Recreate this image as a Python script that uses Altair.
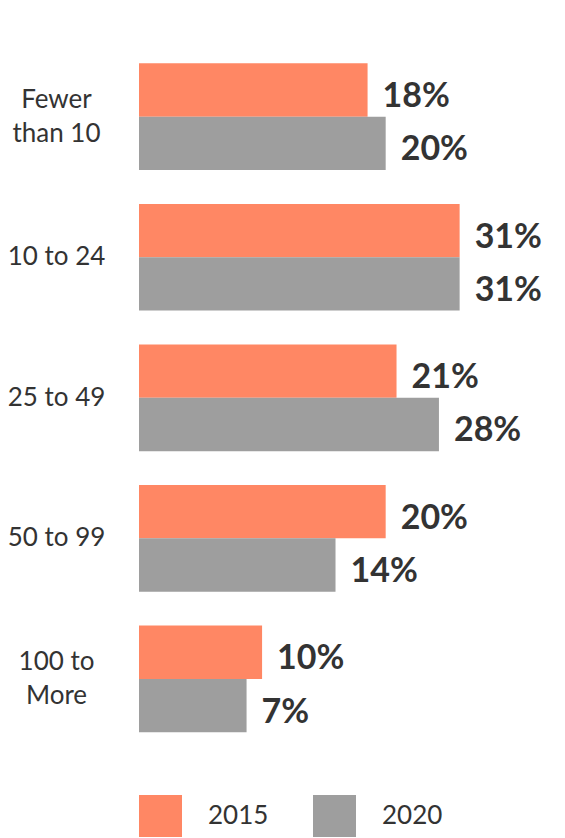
import altair as alt
import pandas as pd

categories = ["Fewer than 10", "10 to 24", "25 to 49", "50 to 99", "100 to More"]
years = ["2015", "2020"]
# printed labels (%)
labels_2015 = [18, 31, 21, 20, 10]
labels_2020 = [20, 31, 28, 14, 7]
# bar lengths as drawn in the picture (in % units)
bars_2015 = [22.1, 31.0, 24.9, 23.85, 11.9]
bars_2020 = [23.85, 31.0, 29.0, 19.0, 10.4]
colors = ["#FF8764", "#9E9E9E"]

rows = []
for i, c in enumerate(categories):
    rows.append({"cat": c, "year": "2015", "len": bars_2015[i], "label": f"{labels_2015[i]}%"})
    rows.append({"cat": c, "year": "2020", "len": bars_2020[i], "label": f"{labels_2020[i]}%"})
df = pd.DataFrame(rows)

label_expr = ("datum.label == 'Fewer than 10' ? ['Fewer', 'than 10'] : "
              "datum.label == '100 to More' ? ['100 to', 'More'] : datum.label")
two_line = "datum.label == 'Fewer than 10' || datum.label == '100 to More'"

y_enc = alt.Y("cat:N", sort=categories,
              scale=alt.Scale(paddingInner=0.241, paddingOuter=0),
              axis=alt.Axis(title=None, ticks=False, tickSize=0, domain=False,
                            labelAlign="center", labelBaseline="middle",
                            labelOffset={"condition": {"test": two_line, "value": -17}, "value": 0},
                            labelPadding=83, labelFont="Lato", labelFontSize=26,
                            labelColor="#333333", labelLineHeight=34,
                            labelExpr=label_expr))
yoff = alt.YOffset("year:N", sort=years, scale=alt.Scale(paddingInner=0, paddingOuter=0))
x_enc = alt.X("len:Q", scale=alt.Scale(domain=[0, 35], nice=False), axis=None)

bars = alt.Chart(df).mark_bar(opacity=1).encode(
    x=x_enc, y=y_enc, yOffset=yoff,
    color=alt.Color("year:N", sort=years,
                    scale=alt.Scale(domain=years, range=colors),
                    legend=alt.Legend(title=None, orient="none", legendX=0, legendY=731.7,
                                      direction="horizontal", symbolType="square",
                                      symbolSize=1849, symbolStrokeWidth=0, symbolOpacity=1,
                                      labelFont="Lato", labelFontSize=26, labelColor="#333333",
                                      labelOffset=26, columnPadding=44, padding=0))
)

text = alt.Chart(df).mark_text(align="left", baseline="alphabetic", dx=15, dy=17,
                               font="Lato", fontWeight="bold", fontSize=34,
                               color="#333333").encode(
    x=x_enc, y=alt.Y("cat:N", sort=categories), yOffset=yoff, text="label:N"
)

chart = alt.layer(bars, text).properties(
    width=362, height=669,
    padding={"left": 131, "top": 55.3, "right": 56, "bottom": 105},
    autosize=alt.AutoSizeParams(type="none"),
).configure_view(strokeWidth=0)

chart.save("out.html", embed_options={"renderer": "svg", "actions": False})
